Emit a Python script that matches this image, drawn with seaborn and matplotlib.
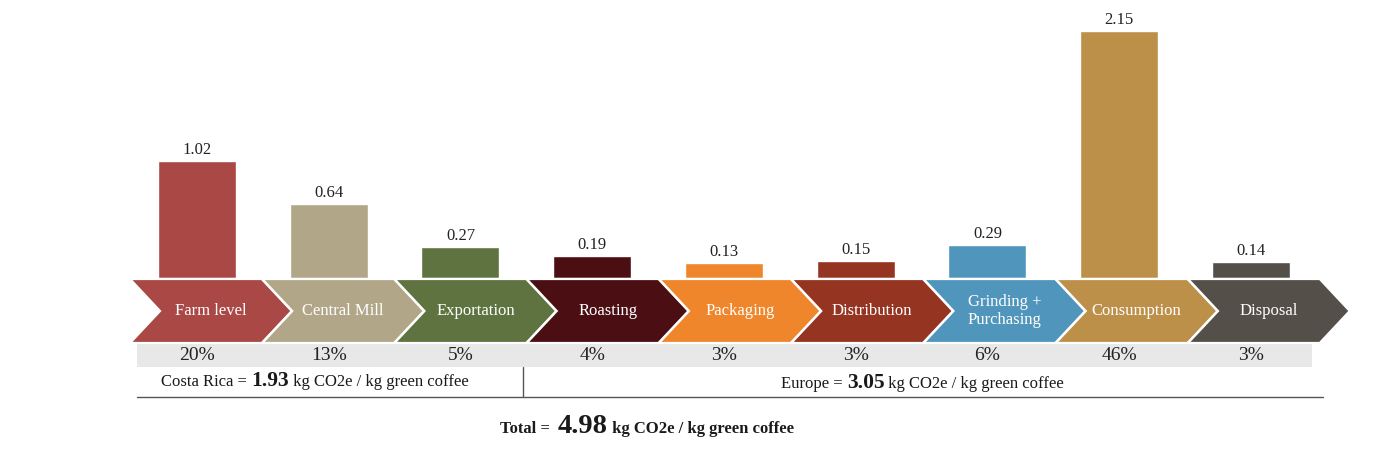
import matplotlib
matplotlib.use("Agg")
import matplotlib.pyplot as plt
from matplotlib.patches import Polygon, Rectangle
import seaborn as sns
import pandas as pd

# ---------------- data ----------------
stages = ["Farm level", "Central Mill", "Exportation", "Roasting", "Packaging",
          "Distribution", "Grinding +\nPurchasing", "Consumption", "Disposal"]
values = [1.02, 0.64, 0.27, 0.19, 0.13, 0.15, 0.29, 2.15, 0.14]
shares = ["20%", "13%", "5%", "4%", "3%", "3%", "6%", "46%", "3%"]
colors = ["#A94845", "#B1A688", "#5F7340", "#4B0F13", "#F0862B",
          "#963422", "#5095BC", "#BD904A", "#545049"]
costa_rica_total = "1.93"
europe_total = "3.05"
grand_total = "4.98"
unit = "kg CO2e / kg green coffee"

# ---------------- figure ----------------
W, H = 1394, 476
fig = plt.figure(figsize=(W / 100, H / 100), dpi=100)
ax = fig.add_axes([0, 0, 1, 1])
sns.set_style("white")
plt.rcParams["font.family"] = ["Liberation Serif", "DejaVu Serif"]

X0, XS = 197.0, 131.75   # pixel of first bar centre, pixels per category
Y0, YS = 278.0, 115.0    # pixel of baseline (from top), pixels per unit


def px(xp):
    return (xp - X0) / XS


def py(yp):
    return (Y0 - yp) / YS


df = pd.DataFrame({"stage": stages, "value": values})
sns.barplot(data=df, x="stage", y="value", hue="stage", order=stages,
            hue_order=stages, palette=colors, width=78 / XS, saturation=1,
            legend=False, ax=ax)

ax.set_xlim(px(0), px(W))
ax.set_ylim(py(H), py(0))
ax.axis("off")

# value labels
for i, v in enumerate(values):
    ax.annotate(f"{v:.2f}", (i, v), xytext=(0, 7), textcoords="offset pixels",
                ha="center", va="baseline", fontsize=12, color="#222222")

# chevrons
top, bot = py(279), py(343)
mid = (top + bot) / 2
P = 30 / XS
for i, (lab, c) in enumerate(zip(stages, colors)):
    L = px(130) + i * (132.25 / XS)
    poly = Polygon([(L, top), (L + 1, top), (L + 1 + P, mid), (L + 1, bot),
                    (L, bot), (L + P, mid)], closed=True, facecolor=c,
                   edgecolor="white", linewidth=1.6, zorder=3)
    ax.add_patch(poly)
    ax.text(L + (1 + P) / 2, mid, lab, ha="center", va="center", color="white",
            fontsize=12, linespacing=1.2, zorder=4)

# percentage band
ax.add_patch(Rectangle((px(137), py(367)), px(1312) - px(137), py(344) - py(367),
                       facecolor="#E8E8E8", edgecolor="none", zorder=1))
for i, s in enumerate(shares):
    ax.text(i, py(356), s, ha="center", va="center", fontsize=14,
            color="#222222", zorder=2)

# separator lines
ax.plot([px(137), px(1323)], [py(397), py(397)], color="#555555", lw=1)
ax.plot([px(523), px(523)], [py(367), py(397)], color="#555555", lw=1)


def rich(x_start, y_base, parts):
    """parts: list of (text, size, weight). Drawn left-to-right on one baseline."""
    fig.canvas.draw()
    r = fig.canvas.get_renderer()
    xcur = x_start
    for txt, size, weight in parts:
        t = ax.text(px(xcur), py(y_base), txt, ha="left", va="baseline",
                    fontsize=size, fontweight=weight, color="#1a1a1a")
        bb = t.get_window_extent(renderer=r)
        xcur += bb.width


rich(161, 386, [("Costa Rica = ", 12, "normal"), (costa_rica_total, 15.5, "bold"),
                (" " + unit, 12, "normal")])
rich(781, 388, [("Europe = ", 12, "normal"), (europe_total, 15.5, "bold"),
                (" " + unit, 12, "normal")])
rich(500, 433, [("Total =  ", 12, "bold"), (grand_total, 20.5, "bold"),
                (" " + unit, 12, "bold")])

fig.savefig("out.png", dpi=100, facecolor="white")
